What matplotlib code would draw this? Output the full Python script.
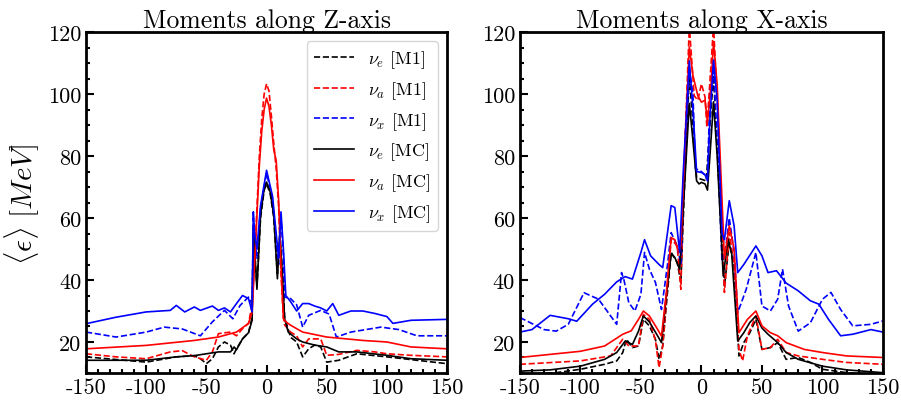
import numpy as np
import matplotlib
matplotlib.use('Agg')
import matplotlib.pyplot as plt
from matplotlib.ticker import MultipleLocator

plt.rcParams['font.family'] = 'serif'
plt.rcParams['font.serif'] = ['cmr10']
plt.rcParams['mathtext.fontset'] = 'cm'
plt.rcParams['axes.unicode_minus'] = False

# ---------------- Z-axis panel data ----------------
zx_ce_mc = [-150, -100, -75, -60, -50, -40, -30, -27, -25, -20, -15, -12, -11, -8, -5, -2, 0, 3, 6, 9,
            11, 13, 15, 18, 25, 30, 40, 50, 60, 75, 100, 120, 150]
zy_ce_mc = [14.1, 14.1, 15.2, 15.6, 16.2, 16.8, 16.8, 18.4, 17.5, 21, 23, 27, 57.6, 37, 61, 69.5, 71.6, 68.4, 61, 40.4,
            55.5, 42.6, 27.5, 23.2, 21, 20, 19, 18.4, 16.8, 16.8, 15.7, 14.6, 14.1]

zx_ce_m1 = [-150, -100, -75, -60, -55, -50, -45, -40, -35, -30, -27, -25, -20, -15, -12, -11, -8, -5, -2, 0, 3, 6, 9,
            11, 13, 15, 20, 25, 30, 35, 40, 45, 50, 60, 75, 100, 125, 150]
zy_ce_m1 = [15.2, 13.5, 15.2, 15.6, 14.6, 13, 14.6, 18.4, 20, 19, 16.2, 17.8, 21, 23, 28, 55, 38, 60, 69, 71, 68, 60, 42,
            54, 44, 28, 21.5, 20, 15.2, 17.8, 19, 18.4, 13.5, 14.1, 16.2, 15.2, 14.1, 13]

zx_ca_mc = [-150, -100, -60, -40, -25, -15, -12, -10, -8, -6, -4, -2, 0, 2, 4, 6, 8, 10, 12, 14,
            16, 20, 30, 50, 80, 100, 120, 150]
zy_ca_mc = [17.8, 18.9, 20.5, 21.6, 23.2, 26, 29.7, 44.7, 61, 77, 88, 95, 98.7, 96, 90, 82, 78.6, 66, 44.7, 27.5,
            26.5, 25.4, 23.2, 21.6, 20.5, 20, 18.4, 17.8]

zx_ca_m1 = [-150, -125, -100, -80, -70, -60, -50, -45, -40, -30, -25, -20, -15, -12, -10, -8, -6, -4, -2, 0, 2, 4, 6,
            8, 10, 12, 14, 15, 20, 25, 30, 35, 40, 45, 50, 60, 75, 90, 100, 120, 150]
zy_ca_m1 = [16.2, 15.2, 14.6, 16.8, 17.2, 15.2, 14.1, 16.8, 22.7, 23.2, 22, 24.3, 26, 32, 46, 63, 80, 92, 100, 103.3, 101,
            93, 84, 76, 64, 42, 28, 25.5, 23.2, 22, 18.4, 21, 21, 21, 15.7, 16, 17.3, 16.8, 16.2, 15.7, 15.2]

zx_cx_mc = [-150, -125, -100, -80, -75, -68, -60, -55, -45, -40, -35, -30, -25, -20, -15, -12, -11, -10, -8, -5, 0,
            5, 8, 10, 12, 14, 16, 20, 25, 30, 35, 40, 45, 50, 55, 60, 70, 80, 90, 100, 105, 120, 150]
zy_cx_mc = [25.9, 28, 29.7, 30.2, 31.8, 29.7, 31.3, 30.2, 31.6, 30.2, 31, 29.7, 32.4, 35, 34, 29.7, 62, 55, 50, 64, 75.4,
            67, 55, 47, 62, 50, 35, 33, 30, 32.4, 32.4, 31.6, 31, 30, 32.4, 28.6, 30, 30, 29.2, 28.2, 26, 27, 27.3]

zx_cx_m1 = [-150, -125, -100, -85, -70, -55, -45, -35, -28, -22, -15, -12, -11, -8, -5, 0, 5, 8, 10, 12, 14,
            15, 20, 25, 30, 35, 45, 52, 58, 70, 95, 110, 125, 150]
zy_cx_m1 = [23.2, 21.6, 23.2, 24.8, 24.2, 22, 26.5, 30.2, 27.5, 31.8, 34.5, 32, 60, 47, 63, 74.5, 66, 52, 45, 60, 48,
            34.5, 34, 32, 24.8, 28.6, 30.2, 29, 21.6, 23.2, 24.8, 24, 22, 22]

# ---------------- X-axis panel data ----------------
xx_ce_mc = [-150, -125, -100, -80, -70, -63, -57, -52, -48, -43, -37, -33, -29, -25, -22, -18, -14, -10, -7, -4, -2,
            0, 3, 5, 7, 10, 13, 18, 22, 25, 30, 35, 40, 45, 50, 55, 63, 70, 80, 100, 120, 150]
xy_ce_mc = [10.6, 11, 12.2, 14.4, 16.6, 20.3, 19.2, 23.5, 28.4, 26.5, 22.5, 19.8, 35, 48.5, 47.3, 43.5, 70, 97, 85, 72, 71,
            71.5, 71, 69, 80, 97.5, 80, 41.3, 53.2, 48.5, 20.3, 23, 26.3, 28.4, 24.5, 22.5, 19.8, 16.6, 14.4, 12.2, 11, 10.1]

xx_ce_m1 = [-150, -120, -100, -80, -70, -65, -62, -57, -52, -48, -43, -38, -35, -32, -29, -25, -20, -17, -14, -10, -7,
            -4, 0, 4, 7, 10, 14, 19, 23, 27, 31, 35, 40, 45, 50, 57, 63, 70, 80, 90, 100, 120, 150]
xy_ce_m1 = [9.6, 10.1, 11.2, 12.8, 13.9, 16.6, 20.9, 18.2, 18.7, 27.3, 25.2, 20.9, 14.4, 18.7, 32, 48.9, 45.7, 39.2, 70, 106, 90,
            73, 72.5, 72, 90, 106, 75, 38.1, 52, 44.5, 15.5, 19.8, 23, 27.3, 17.6, 18.2, 19.8, 14.4, 15, 13.4, 11.2, 10.1, 9]

xx_ca_mc = [-150, -100, -80, -65, -58, -52, -48, -43, -37, -33, -29, -25, -22, -19, -17, -14, -10, -7, -3, 0, 3, 5, 8,
            10, 13, 17, 19, 23, 27, 31, 38, 45, 50, 57, 63, 70, 85, 100, 120, 150]
xy_ca_mc = [15, 17, 18.7, 22.5, 23.6, 27.3, 30, 28.4, 24.6, 21.9, 36, 53.7, 53, 48.9, 51, 80, 115.2, 106, 99.5, 97.4, 98, 91,
            103.5, 116.8, 103, 66, 46.8, 57.5, 50, 23, 27.3, 30, 25.2, 23, 22, 19.8, 17.6, 16.6, 15.5, 15]

xx_ca_m1 = [-150, -100, -75, -65, -60, -52, -48, -43, -38, -35, -32, -28, -25, -20, -17, -14, -10, -6, -3, 0, 3, 4.5, 7,
            10, 14, 17, 19, 23, 27, 31, 34, 38, 45, 50, 57, 63, 70, 80, 100, 120, 150]
xy_ca_m1 = [12.8, 13.9, 15.5, 20.9, 18.7, 18.7, 28.9, 27.3, 20.5, 11.7, 18.7, 38, 53.2, 51, 37, 80, 122, 99.5, 98, 103.3, 99,
            89.3, 104, 122, 90, 55, 36, 55.3, 45, 17.6, 13.9, 22, 28.4, 17.6, 18.2, 20.9, 16.6, 15.5, 14.4, 13.4, 12.8]

xx_cx_mc = [-150, -140, -125, -110, -103, -90, -80, -70, -63, -57, -50, -47, -42, -35, -32, -25, -22, -18, -15, -10,
            -7, -4, 0, 3, 5, 7, 10, 13, 17, 19, 23, 27, 30, 35, 45, 50, 55, 62, 70, 80, 90, 97, 105, 115, 125, 140, 150]
xy_cx_mc = [23.2, 24, 28.6, 27.5, 26.7, 32.2, 35.4, 39.4, 41.1, 40.3, 48.9, 53, 47.8, 45, 44, 64, 63.4, 49, 75, 110.7,
            95, 75, 74.7, 74, 72, 92, 111, 98, 55, 53, 65.6, 57.5, 42.4, 45, 51, 47.8, 42.4, 43, 39, 36.5, 33.3, 32.2, 27.3,
            22, 22.5, 24, 23.2]

xx_cx_m1 = [-150, -130, -120, -110, -97, -85, -75, -70, -66, -64, -60, -55, -50, -47, -43, -38, -33, -28, -25, -20,
            -17, -14, -10, -7, -5, 0, 5, 7, 10, 14, 17, 20, 23, 27, 30, 37, 45, 50, 57, 63, 67, 72, 80, 90, 100, 107, 115,
            125, 140, 150]
xy_cx_m1 = [27.9, 24, 23.5, 25.7, 35.9, 33.8, 28.4, 25.7, 42.4, 40, 32.7, 30, 35.4, 48.9, 43.5, 39.2, 30.5, 45, 55.3, 51,
            45, 75, 108, 100, 76, 75, 73, 100, 109, 75, 46, 50, 60, 49, 29.5, 37, 48.9, 31.6, 30, 33.8, 43.5, 31.6, 23.5,
            26.2, 33.8, 36, 30.5, 25.2, 25.7, 26.8]

panels = [
    ("Moments along Z-axis",
     [(zx_ce_m1, zy_ce_m1), (zx_ca_m1, zy_ca_m1), (zx_cx_m1, zy_cx_m1)],
     [(zx_ce_mc, zy_ce_mc), (zx_ca_mc, zy_ca_mc), (zx_cx_mc, zy_cx_mc)]),
    ("Moments along X-axis",
     [(xx_ce_m1, xy_ce_m1), (xx_ca_m1, xy_ca_m1), (xx_cx_m1, xy_cx_m1)],
     [(xx_ce_mc, xy_ce_mc), (xx_ca_mc, xy_ca_mc), (xx_cx_mc, xy_cx_mc)]),
]
colors = ['black', 'red', 'blue']
names = [r'$\nu_e$', r'$\nu_a$', r'$\nu_x$']

fig = plt.figure(figsize=(9.01, 4.02), dpi=100)
ax1 = fig.add_axes([0.0955, 0.0697, 0.4007, 0.848])
ax2 = fig.add_axes([0.577, 0.0697, 0.403, 0.848])

for ax, (title, m1, mc) in zip([ax1, ax2], panels):
    for (x, y), c, n in zip(m1, colors, names):
        ax.plot(x, y, '--', color=c, lw=1.2, label=n + ' [M1]')
    for (x, y), c, n in zip(mc, colors, names):
        ax.plot(x, y, '-', color=c, lw=1.2, label=n + ' [MC]')
    ax.set_xlim(-150, 150)
    ax.set_ylim(10, 120)
    ax.set_title(title, fontsize=18.5, pad=1)
    ax.xaxis.set_major_locator(MultipleLocator(50))
    ax.xaxis.set_minor_locator(MultipleLocator(10))
    ax.yaxis.set_major_locator(MultipleLocator(20))
    ax.yaxis.set_minor_locator(MultipleLocator(5))
    ax.tick_params(which='both', direction='in', labelsize=16, width=1.5)
    ax.tick_params(which='major', length=6)
    ax.tick_params(which='minor', length=3)
    for s in ax.spines.values():
        s.set_linewidth(2)

ax1.set_ylabel(r'$\langle \epsilon \rangle\ [MeV]$', fontsize=21)
ax1.legend(loc='upper right', fontsize=13, handlelength=2.2, framealpha=0.8)

plt.savefig('out.png', dpi=100)
